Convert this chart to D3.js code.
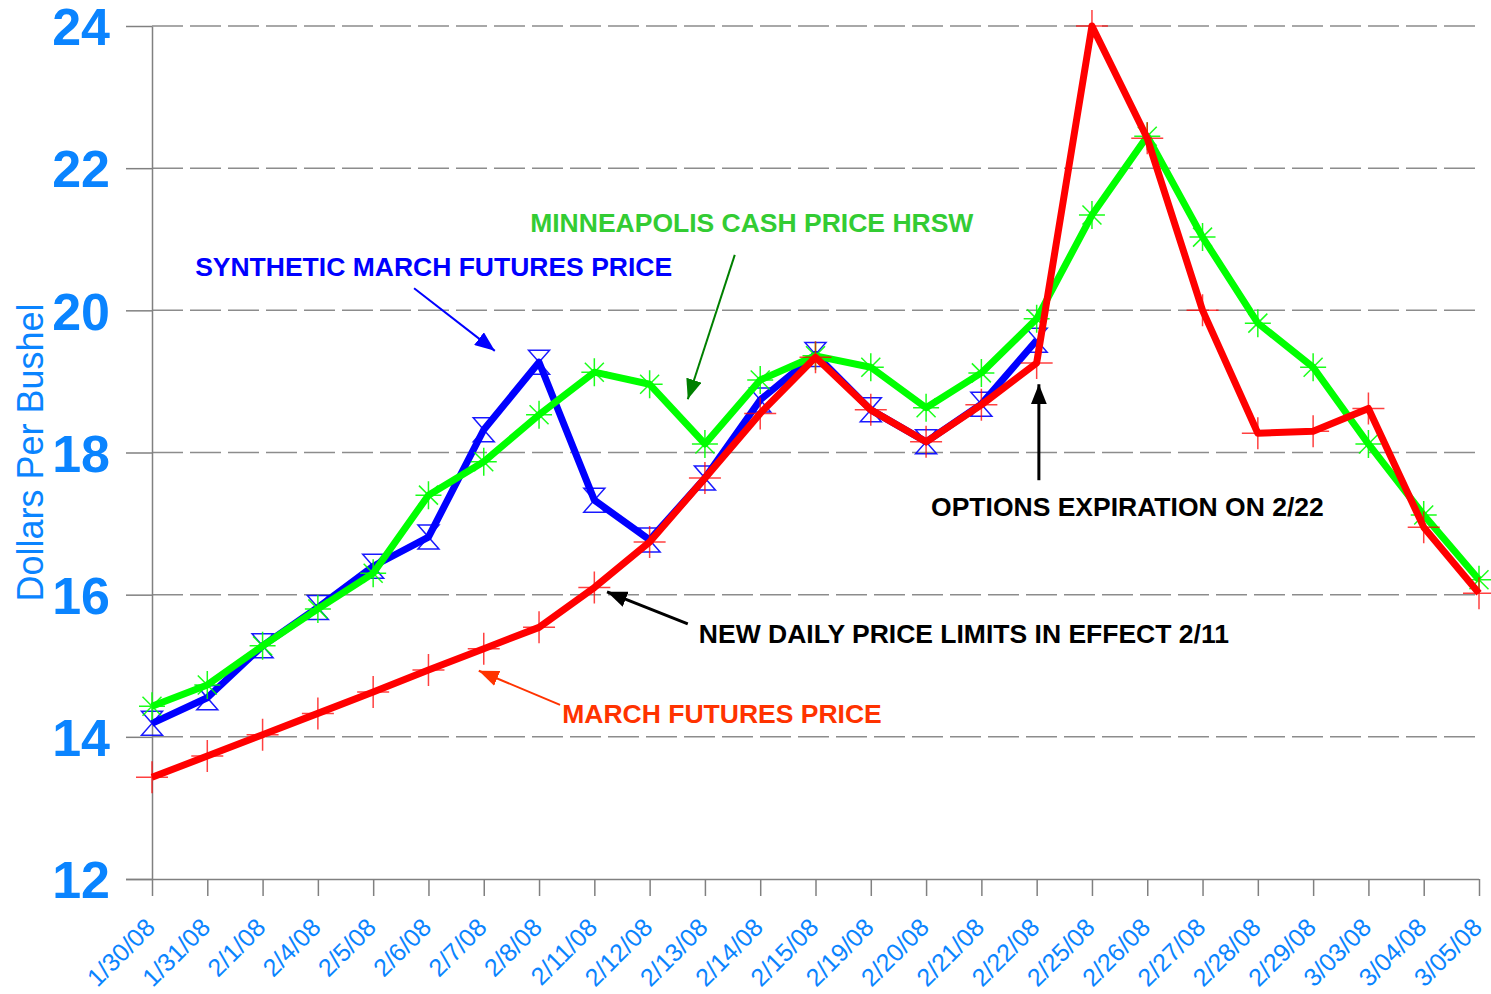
<!DOCTYPE html>
<html>
<head>
<meta charset="utf-8">
<script src="https://cdn.jsdelivr.net/npm/d3@7"></script>
<style>
  body { margin: 0; background: #fff; }
  svg { display: block; font-family: Arial, "Liberation Sans", sans-serif; }
</style>
</head>
<body>
<div id="chart"></div>
<script>
// categories (trading days)
var dates = ["1/30/08","1/31/08","2/1/08","2/4/08","2/5/08","2/6/08","2/7/08","2/8/08",
  "2/11/08","2/12/08","2/13/08","2/14/08","2/15/08","2/19/08","2/20/08","2/21/08",
  "2/22/08","2/25/08","2/26/08","2/27/08","2/28/08","2/29/08","3/03/08","3/04/08","3/05/08"];

// March futures price
var marchFutures = [13.43,13.73,14.03,14.33,14.63,14.94,15.24,15.54,16.10,16.74,17.64,18.55,
  19.34,18.60,18.15,18.67,19.26,24.00,22.42,20.00,18.27,18.30,18.62,16.95,16.02];

// synthetic March futures price (ends on options expiration)
var synthetic = [14.19,14.55,15.28,15.82,16.40,16.81,18.32,19.27,17.33,16.77,17.64,18.74,
  19.38,18.60,18.15,18.68,19.58,null,null,null,null,null,null,null,null];

// Minneapolis cash price HRSW
var cashPrice = [14.43,14.73,15.28,15.80,16.30,17.40,17.87,18.53,19.13,18.96,18.12,19.02,
  19.36,19.20,18.63,19.12,19.88,21.34,22.45,21.03,19.82,19.20,18.12,17.12,16.21];

var yTicks = [12,14,16,18,20,22,24];

// annotations, positioned in data units (x = day index, y = dollars)
var notes = [
  {text: "SYNTHETIC MARCH FUTURES PRICE", color: "#0000ff", i: 0.78, v: 20.48},
  {text: "MINNEAPOLIS CASH PRICE HRSW", color: "#33cc33", i: 6.84, v: 21.10},
  {text: "OPTIONS EXPIRATION ON 2/22", color: "#000000", i: 14.09, v: 17.11},
  {text: "NEW DAILY PRICE LIMITS IN EFFECT 2/11", color: "#000000", i: 9.89, v: 15.32},
  {text: "MARCH FUTURES PRICE", color: "#ff3300", i: 7.42, v: 14.19}
];
var arrows = [
  {color: "#0000ff", from: [4.74, 20.31], to: [6.20, 19.43]},
  {color: "#008000", from: [10.54, 20.78], to: [9.69, 18.75]},
  {color: "#000000", from: [16.04, 17.61], to: [16.04, 18.96]},
  {color: "#000000", from: [9.69, 15.59], to: [8.23, 16.04]},
  {color: "#ff3300", from: [7.38, 14.45], to: [5.91, 14.93]}
];

var W = 1491, H = 994;
var plotLeft = 152, plotRight = 1479, plotTop = 26, plotBottom = 879;

var svg = d3.select("#chart").append("svg")
  .attr("width", W).attr("height", H);

var x = d3.scaleLinear().domain([0, dates.length - 1]).range([plotLeft, plotRight]);
var y = d3.scaleLinear().domain([12, 24]).range([plotBottom, plotTop]);

// arrow heads
var defs = svg.append("defs");
arrows.forEach(function(a, k) {
  defs.append("marker")
    .attr("id", "head" + k)
    .attr("markerUnits", "userSpaceOnUse")
    .attr("markerWidth", 20).attr("markerHeight", 16)
    .attr("refX", 20).attr("refY", 8)
    .attr("orient", "auto")
    .append("path")
      .attr("d", "M0,0L20,8L0,16Z")
      .attr("fill", a.color);
});

// dashed grid
svg.append("g")
  .selectAll("line")
  .data(yTicks.filter(function(d){ return d > 12; }))
  .enter().append("line")
    .attr("x1", plotLeft).attr("x2", plotRight)
    .attr("y1", function(d){ return y(d); })
    .attr("y2", function(d){ return y(d); })
    .attr("stroke", "#8c8c8c")
    .attr("stroke-width", 1.5)
    .attr("stroke-dasharray", "31,7");

// y axis
var yAxis = svg.append("g")
  .attr("transform", "translate(" + plotLeft + ",0)")
  .call(d3.axisLeft(y).tickValues(yTicks).tickSize(26).tickPadding(16).tickSizeOuter(0));
yAxis.select(".domain").attr("stroke", "#808080").attr("stroke-width", 1.5);
yAxis.selectAll(".tick line").attr("stroke", "#808080").attr("stroke-width", 1.5);
yAxis.selectAll("text")
  .attr("fill", "#0a84ff")
  .style("font-size", "52px")
  .style("font-weight", "bold")
  .attr("dy", "0.36em");

// x axis
var xAxis = svg.append("g")
  .attr("transform", "translate(0," + plotBottom + ")")
  .call(d3.axisBottom(x)
    .tickValues(d3.range(dates.length))
    .tickFormat(function(i){ return dates[i]; })
    .tickSize(17).tickSizeOuter(0));
xAxis.select(".domain")
  .attr("d", "M126,0.5H" + plotRight)
  .attr("stroke", "#808080").attr("stroke-width", 1.5);
xAxis.selectAll(".tick line").attr("stroke", "#808080").attr("stroke-width", 1.5);
xAxis.selectAll("text")
  .attr("fill", "#0a84ff")
  .style("font-size", "25px")
  .attr("text-anchor", "end")
  .attr("y", 0).attr("dy", 0)
  .attr("transform", "translate(4,50) rotate(-45)");

// y axis title
svg.append("text")
  .attr("transform", "translate(43," + y(18) + ") rotate(-90)")
  .attr("text-anchor", "middle")
  .attr("fill", "#0a84ff")
  .style("font-size", "36px")
  .text("Dollars Per Bushel");

// series
var series = [
  {values: synthetic, color: "#0000ff", shape: "hourglass"},
  {values: cashPrice, color: "#00ff00", shape: "star"},
  {values: marchFutures, color: "#ff0000", shape: "plus"}
];
var shapes = {
  hourglass: "M-10.5,-12L10.5,-12L0,0ZM0,0L10.5,12L-10.5,12Z",
  star: "M-13,0H13M0,-14V14M-9.5,-9.5L9.5,9.5M-9.5,9.5L9.5,-9.5",
  plus: "M-16,0H16M0,-16V16"
};

var line = d3.line()
  .defined(function(d){ return d != null; })
  .x(function(d, i){ return x(i); })
  .y(function(d){ return y(d); });

series.forEach(function(s) {
  var g = svg.append("g");
  g.append("path")
    .datum(s.values)
    .attr("d", line)
    .attr("fill", "none")
    .attr("stroke", s.color)
    .attr("stroke-width", 7)
    .attr("stroke-linejoin", "round");
  g.selectAll("path.mark")
    .data(s.values.map(function(v, i){ return {v: v, i: i}; })
      .filter(function(d){ return d.v != null; }))
    .enter().append("path")
      .attr("class", "mark")
      .attr("d", shapes[s.shape])
      .attr("transform", function(d){ return "translate(" + x(d.i) + "," + y(d.v) + ")"; })
      .attr("fill", "none")
      .attr("stroke", s.color)
      .attr("stroke-width", 1.5)
      .attr("opacity", s.shape == "plus" ? 0.75 : 0.9);
});

// annotation arrows
svg.append("g")
  .selectAll("line")
  .data(arrows)
  .enter().append("line")
    .attr("x1", function(d){ return x(d.from[0]); })
    .attr("y1", function(d){ return y(d.from[1]); })
    .attr("x2", function(d){ return x(d.to[0]); })
    .attr("y2", function(d){ return y(d.to[1]); })
    .attr("stroke", function(d){ return d.color; })
    .attr("stroke-width", function(d){ return d.color == "#000000" ? 3 : 2; })
    .attr("marker-end", function(d, k){ return "url(#head" + k + ")"; });

// annotation labels
svg.append("g")
  .selectAll("text")
  .data(notes)
  .enter().append("text")
    .attr("x", function(d){ return x(d.i); })
    .attr("y", function(d){ return y(d.v); })
    .attr("fill", function(d){ return d.color; })
    .style("font-size", "26.5px")
    .style("font-weight", "bold")
    .text(function(d){ return d.text; });
</script>
</body>
</html>
